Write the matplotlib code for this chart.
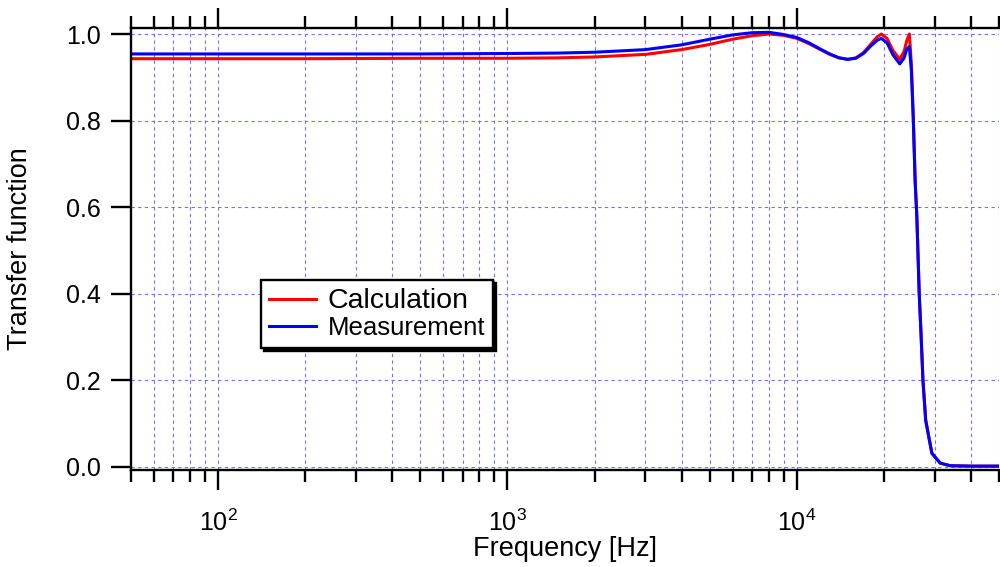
#!/usr/bin/env python3

# plot.py
#
# Transfer function of the filter: calculation vs. measurement.
import matplotlib.pyplot as plt
from matplotlib.ticker import LogLocator, FixedLocator, NullFormatter

# Output filename
IMAGEFILE = 'out.png'

# Frequencies [Hz]
FREQ = [50, 100, 200, 500, 1000, 1500, 2000, 3000, 4000, 5000, 6000, 7000,
        8000, 9000, 10000, 11000, 12000, 13000, 14000, 15000, 16000, 17000,
        18000, 19000, 19600, 20500, 21500, 22700, 23500, 24000, 24500, 24900,
        25300, 25650, 26000, 26500, 26850, 27300, 27900, 29300, 31300, 33900,
        40000, 50000]

CALCULATION = [0.943, 0.943, 0.943, 0.944, 0.944, 0.945, 0.947, 0.953, 0.964,
               0.976, 0.988, 0.996, 1.000, 0.997, 0.990, 0.978, 0.965, 0.953,
               0.945, 0.9415, 0.945, 0.957, 0.976, 0.994, 1.000, 0.990, 0.962,
               0.9415, 0.960, 0.985, 1.000, 0.930, 0.800, 0.663, 0.580, 0.400,
               0.316, 0.200, 0.108, 0.032, 0.009, 0.003, 0.002, 0.002]

MEASUREMENT = [0.954, 0.954, 0.954, 0.954, 0.955, 0.956, 0.958, 0.964, 0.975,
               0.988, 0.998, 1.003, 1.004, 0.999, 0.992, 0.980, 0.966, 0.954,
               0.945, 0.9415, 0.944, 0.955, 0.972, 0.986, 0.990, 0.980, 0.952,
               0.931, 0.945, 0.965, 0.971, 0.915, 0.795, 0.660, 0.578, 0.400,
               0.316, 0.200, 0.108, 0.032, 0.009, 0.003, 0.002, 0.002]

LABELS = ['Calculation', 'Measurement']
COLOR = ['#ff0000', '#0000ff']
GRID_COLOR = '#7070ff'
YTICKS = [0.0, 0.2, 0.4, 0.6, 0.8, 1.0]

plt.rcParams['font.family'] = ['Liberation Sans', 'DejaVu Sans']
plt.rcParams['mathtext.default'] = 'regular'

fig = plt.figure(figsize=(10, 5.67), dpi=100)
ax = fig.add_axes([0.131, 0.1711, 0.868, 0.7795])

# The two traces, measurement on top
ax.plot(FREQ, CALCULATION, color=COLOR[0], lw=2.2, label=LABELS[0])
ax.plot(FREQ, MEASUREMENT, color=COLOR[1], lw=2.2, label=LABELS[1])

ax.set_xscale('log')
ax.set_xlim(50, 50000)
ax.set_ylim(-0.0069, 1.0139)

# Axis ticks, Igor style: outward, top axis mirrored without labels
ax.xaxis.set_major_locator(LogLocator(base=10))
ax.xaxis.set_minor_locator(LogLocator(base=10, subs=range(2, 10)))
ax.xaxis.set_minor_formatter(NullFormatter())
ax.yaxis.set_major_locator(FixedLocator(YTICKS))
ax.set_yticklabels(['%.1f' % v for v in YTICKS])

ax.tick_params(axis='x', which='major', direction='out', length=14.5, width=1.7,
               top=True, labeltop=False, labelsize=18, pad=14)
ax.tick_params(axis='x', which='minor', direction='out', length=8.5, width=1.7,
               top=True)
ax.tick_params(axis='y', which='major', direction='out', length=14.5, width=1.7,
               right=False, labelsize=18, pad=7)

for side in ['left', 'bottom', 'top']:
    ax.spines[side].set_linewidth(1.7)
ax.spines['right'].set_visible(False)

# Dotted blue grid
ax.grid(True, which='both', axis='x', color=GRID_COLOR, lw=0.8,
        linestyle=(0, (3, 3)))
ax.grid(True, which='major', axis='y', color=GRID_COLOR, lw=0.8,
        linestyle=(0, (3, 3)))
ax.set_axisbelow(True)

# Axis labels
ax.set_xlabel('Frequency [Hz]', fontsize=19.5)
ax.xaxis.set_label_coords(0.5, -0.15)
ax.set_ylabel('Transfer function', fontsize=19.5)
ax.yaxis.set_label_coords(-0.113, 0.5)

# Legend with solid black drop shadow
leg = ax.legend(loc='upper left', bbox_to_anchor=(0.1498, 0.4299),
                borderaxespad=0, fancybox=False, framealpha=1,
                edgecolor='black', fontsize=18.5, handlelength=1.85,
                handletextpad=0.45, labelspacing=0.1, borderpad=0.3,
                shadow={'facecolor': 'black', 'edgecolor': 'black', 'alpha': 1})
leg.get_frame().set_linewidth(1.7)
leg.get_texts()[0].set_fontsize(20.5)

fig.savefig(IMAGEFILE, dpi=100)
